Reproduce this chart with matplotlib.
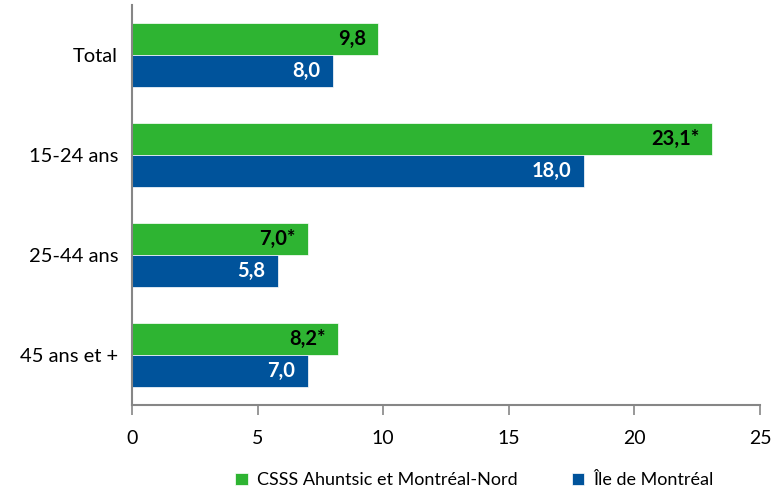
import matplotlib.pyplot as plt
import numpy as np

plt.rcParams['font.family'] = ['Lato', 'DejaVu Sans']

categories = ["Total", "15-24 ans", "25-44 ans", "45 ans et +"]
csss_values = [9.8, 23.1, 7.0, 8.2]
csss_labels = ["9,8", "23,1*", "7,0*", "8,2*"]
mtl_values = [8.0, 18.0, 5.8, 7.0]
mtl_labels = ["8,0", "18,0", "5,8", "7,0"]
series_names = ["CSSS Ahuntsic et Montréal-Nord", "Île de Montréal"]

green = "#2EB432"
blue = "#00539B"

fig = plt.figure(figsize=(7.75, 4.9), dpi=100)
ax = fig.add_axes([132 / 775, 1 - 405 / 490, 628 / 775, 400 / 490])

y = np.arange(len(categories))
h = 0.32
b1 = ax.barh(y - h / 2, csss_values, height=h, color=green, label=series_names[0],
             edgecolor="white", linewidth=0.5)
b2 = ax.barh(y + h / 2, mtl_values, height=h, color=blue, label=series_names[1],
             edgecolor="white", linewidth=0.5)

for bars, labels, col in [(b1, csss_labels, "black"), (b2, mtl_labels, "white")]:
    for bar, lab in zip(bars, labels):
        ax.annotate(lab, (bar.get_width(), bar.get_y() + bar.get_height() / 2),
                    xytext=(-9, 0), textcoords="offset points",
                    ha="right", va="center", fontsize=14.5, fontweight="bold", color=col)

ax.set_ylim(len(categories) - 0.5, -0.5)
ax.set_xlim(0, 25)
ax.set_xticks([0, 5, 10, 15, 20, 25])
ax.set_yticks(y)
ax.set_yticklabels(categories)
ax.tick_params(axis="y", length=0, pad=10, labelsize=14.5)
ax.tick_params(axis="x", direction="out", length=7, width=1.2, color="#868686",
               pad=11, labelsize=14)
for side in ["top", "right"]:
    ax.spines[side].set_visible(False)
for side in ["left", "bottom"]:
    ax.spines[side].set_color("#868686")
    ax.spines[side].set_linewidth(1.5)

fig.legend(loc="lower center", bbox_to_anchor=(0.612, -0.03), ncol=2, frameon=False,
           fontsize=13, handlelength=0.7, handleheight=0.7, handletextpad=0.5,
           columnspacing=3)

fig.savefig("out.png", dpi=100)
